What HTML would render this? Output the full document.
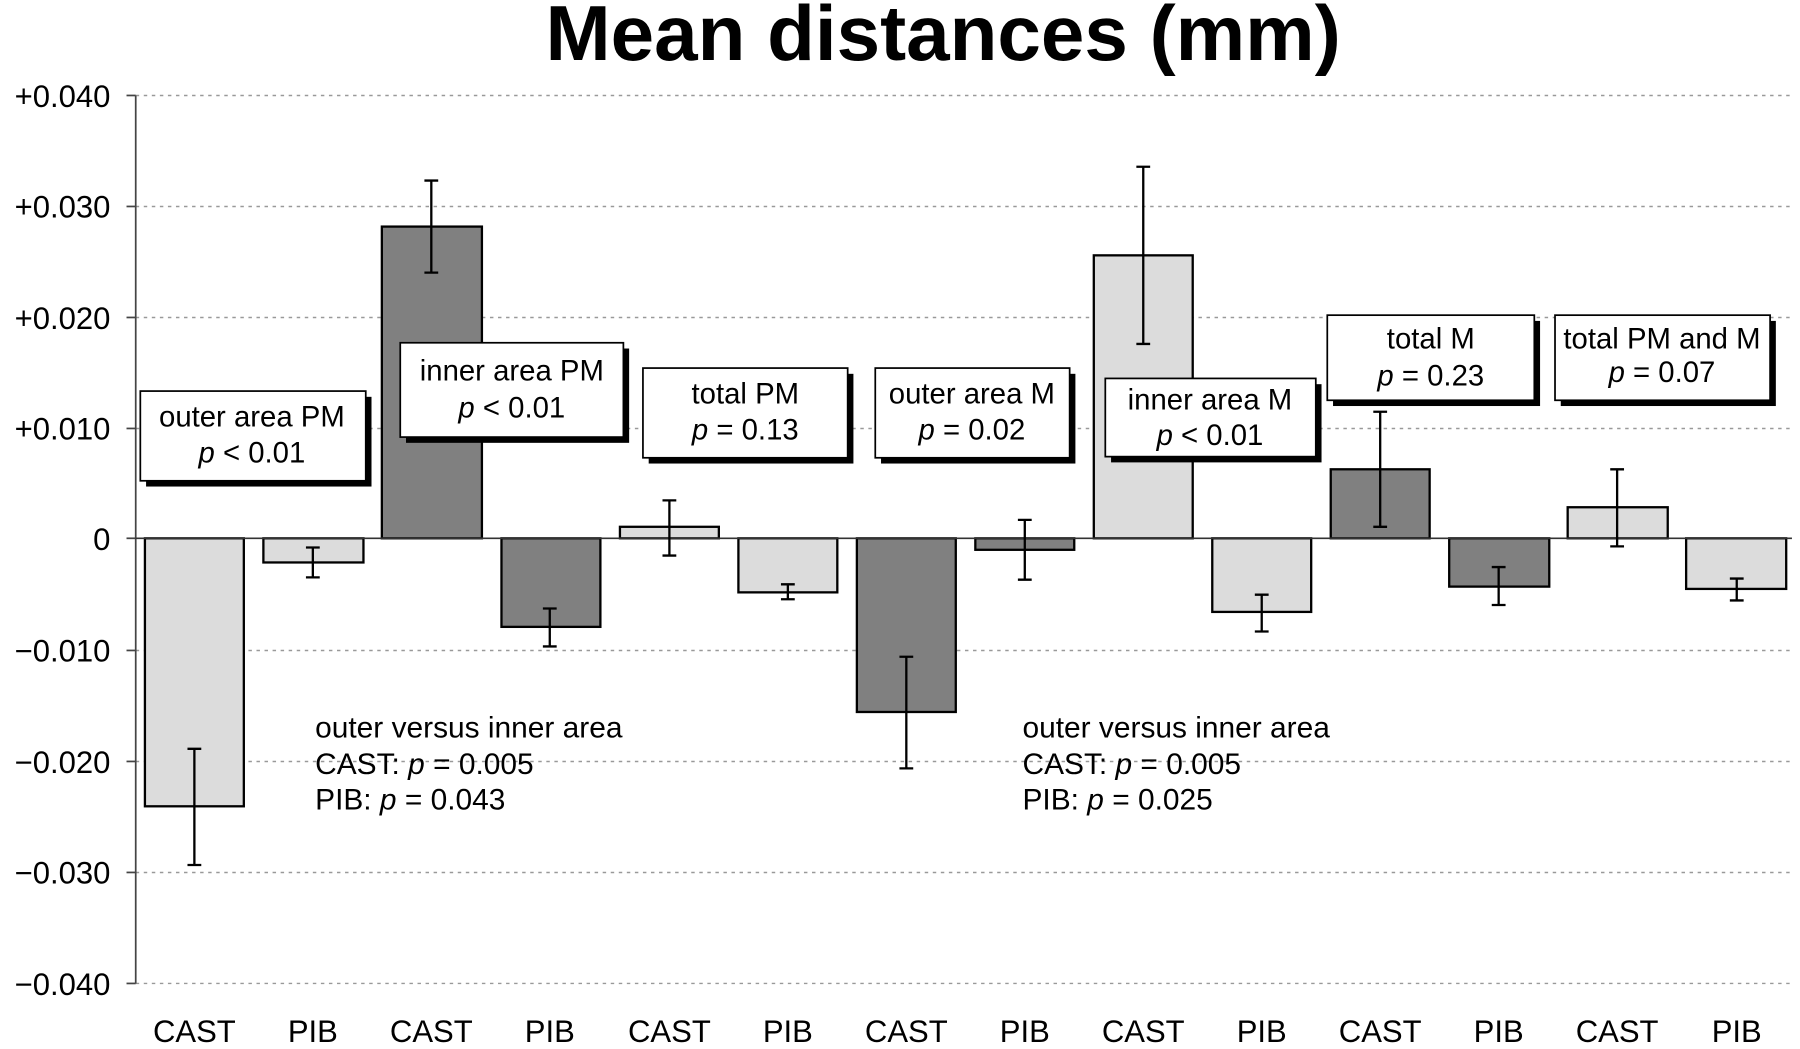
<!DOCTYPE html>
<html><head><meta charset="utf-8"><style>
html,body{margin:0;padding:0;background:#fff;}
svg{display:block;}
text{font-family:"Liberation Sans",Arial,sans-serif;fill:#000;}
</style></head><body>
<svg width="1800" height="1049" viewBox="0 0 1565 912" preserveAspectRatio="none" xmlns="http://www.w3.org/2000/svg">
<text x="820" y="52" font-size="68" font-weight="bold" text-anchor="middle">Mean distances (mm)</text>
<g stroke="#999" stroke-width="1.3" stroke-dasharray="3,4">
<line x1="118" x2="1558" y1="83" y2="83"/>
<line x1="118" x2="1558" y1="179.5" y2="179.5"/>
<line x1="118" x2="1558" y1="276" y2="276"/>
<line x1="118" x2="1558" y1="372.5" y2="372.5"/>
<line x1="118" x2="1558" y1="565.5" y2="565.5"/>
<line x1="118" x2="1558" y1="662" y2="662"/>
<line x1="118" x2="1558" y1="758.5" y2="758.5"/>
<line x1="118" x2="1558" y1="855" y2="855"/>
</g>
<g stroke="#444" stroke-width="1.5">
<line x1="118" x2="118" y1="83" y2="855"/>
<line x1="110" x2="118" y1="83" y2="83"/><line x1="110" x2="118" y1="179.5" y2="179.5"/>
<line x1="110" x2="118" y1="276" y2="276"/><line x1="110" x2="118" y1="372.5" y2="372.5"/>
<line x1="110" x2="118" y1="468" y2="468"/><line x1="110" x2="118" y1="565.5" y2="565.5"/>
<line x1="110" x2="118" y1="662" y2="662"/><line x1="110" x2="118" y1="758.5" y2="758.5"/>
<line x1="110" x2="118" y1="855" y2="855"/>
</g>
<g font-size="27" text-anchor="end">
<text x="96" y="93">+0.040</text><text x="96" y="189">+0.030</text>
<text x="96" y="286">+0.020</text><text x="96" y="382">+0.010</text>
<text x="96" y="478">0</text><text x="96" y="575">−0.010</text>
<text x="96" y="672">−0.020</text><text x="96" y="768">−0.030</text>
<text x="96" y="865">−0.040</text>
</g>
<g stroke="#000" stroke-width="2">
<rect x="126" y="468" width="86" height="233" fill="#dcdcdc"/>
<rect x="229" y="468" width="87" height="21" fill="#dcdcdc"/>
<rect x="332" y="197" width="87" height="271" fill="#808080"/>
<rect x="436" y="468" width="86" height="77" fill="#808080"/>
<rect x="539" y="458" width="86" height="10" fill="#dcdcdc"/>
<rect x="642" y="468" width="86" height="47" fill="#dcdcdc"/>
<rect x="745" y="468" width="86" height="151" fill="#808080"/>
<rect x="848" y="468" width="86" height="10" fill="#808080"/>
<rect x="951" y="222" width="86" height="246" fill="#dcdcdc"/>
<rect x="1054" y="468" width="86" height="64" fill="#dcdcdc"/>
<rect x="1157" y="408" width="86" height="60" fill="#808080"/>
<rect x="1260" y="468" width="87" height="42" fill="#808080"/>
<rect x="1363" y="441" width="87" height="27" fill="#dcdcdc"/>
<rect x="1466" y="468" width="87" height="44" fill="#dcdcdc"/>
</g>
<line x1="118" x2="1558" y1="468" y2="468" stroke="#333" stroke-width="1.5"/>
<g stroke="#000" stroke-width="2" fill="none">
<path d="M169 651V752M163 651h12M163 752h12"/>
<path d="M272 476V502M266 476h12M266 502h12"/>
<path d="M375 157V237M369 157h12M369 237h12"/>
<path d="M478 529V562M472 529h12M472 562h12"/>
<path d="M582 435V483M576 435h12M576 483h12"/>
<path d="M685 508V521M679 508h12M679 521h12"/>
<path d="M788 571V668M782 571h12M782 668h12"/>
<path d="M891 452V504M885 452h12M885 504h12"/>
<path d="M994 145V299M988 145h12M988 299h12"/>
<path d="M1097 517V549M1091 517h12M1091 549h12"/>
<path d="M1200 358V458M1194 358h12M1194 458h12"/>
<path d="M1303 493V526M1297 493h12M1297 526h12"/>
<path d="M1406 408V475M1400 408h12M1400 475h12"/>
<path d="M1510 503V522M1504 503h12M1504 522h12"/>
</g>
<g>
<rect x="127" y="345" width="196" height="78" fill="#000"/><rect x="122" y="340" width="196" height="78" fill="#fff" stroke="#000" stroke-width="1.5"/>
<rect x="353" y="303" width="194" height="82" fill="#000"/><rect x="348" y="298" width="194" height="82" fill="#fff" stroke="#000" stroke-width="1.5"/>
<rect x="564" y="325" width="178" height="78" fill="#000"/><rect x="559" y="320" width="178" height="78" fill="#fff" stroke="#000" stroke-width="1.5"/>
<rect x="766" y="325" width="169" height="78" fill="#000"/><rect x="761" y="320" width="169" height="78" fill="#fff" stroke="#000" stroke-width="1.5"/>
<rect x="966" y="334" width="183" height="68" fill="#000"/><rect x="961" y="329" width="183" height="68" fill="#fff" stroke="#000" stroke-width="1.5"/>
<rect x="1159" y="279" width="180" height="74" fill="#000"/><rect x="1154" y="274" width="180" height="74" fill="#fff" stroke="#000" stroke-width="1.5"/>
<rect x="1357" y="279" width="187" height="74" fill="#000"/><rect x="1352" y="274" width="187" height="74" fill="#fff" stroke="#000" stroke-width="1.5"/>
</g>
<g font-size="25.5" text-anchor="middle">
<text x="219" y="371">outer area PM</text><text x="219" y="402"><tspan font-style="italic">p</tspan> &lt; 0.01</text>
<text x="445" y="331">inner area PM</text><text x="445" y="363"><tspan font-style="italic">p</tspan> &lt; 0.01</text>
<text x="648" y="351">total PM</text><text x="648" y="382"><tspan font-style="italic">p</tspan> = 0.13</text>
<text x="845" y="351">outer area M</text><text x="845" y="382"><tspan font-style="italic">p</tspan> = 0.02</text>
<text x="1052" y="356">inner area M</text><text x="1052" y="387"><tspan font-style="italic">p</tspan> &lt; 0.01</text>
<text x="1244" y="303">total M</text><text x="1244" y="335"><tspan font-style="italic">p</tspan> = 0.23</text>
<text x="1445" y="303">total PM and M</text><text x="1445" y="332"><tspan font-style="italic">p</tspan> = 0.07</text>
</g>
<g font-size="26">
<text x="274" y="641">outer versus inner area</text>
<text x="274" y="673">CAST: <tspan font-style="italic">p</tspan> = 0.005</text>
<text x="274" y="704">PIB: <tspan font-style="italic">p</tspan> = 0.043</text>
<text x="889" y="641">outer versus inner area</text>
<text x="889" y="673">CAST: <tspan font-style="italic">p</tspan> = 0.005</text>
<text x="889" y="704">PIB: <tspan font-style="italic">p</tspan> = 0.025</text>
</g>
<g font-size="27" text-anchor="middle">
<text x="169" y="906">CAST</text><text x="272" y="906">PIB</text>
<text x="375" y="906">CAST</text><text x="478" y="906">PIB</text>
<text x="582" y="906">CAST</text><text x="685" y="906">PIB</text>
<text x="788" y="906">CAST</text><text x="891" y="906">PIB</text>
<text x="994" y="906">CAST</text><text x="1097" y="906">PIB</text>
<text x="1200" y="906">CAST</text><text x="1303" y="906">PIB</text>
<text x="1406" y="906">CAST</text><text x="1510" y="906">PIB</text>
</g>
</svg>
</body></html>
